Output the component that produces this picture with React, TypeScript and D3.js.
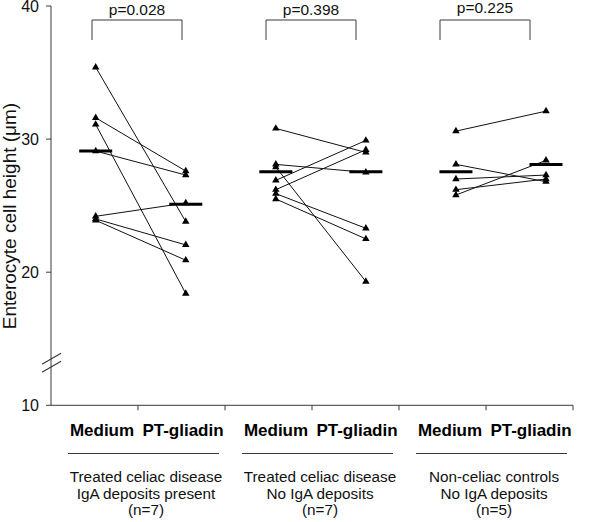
import React from "react";
import * as d3 from "d3";

// ---- data ----
const conditions = ["Medium", "PT-gliadin"];
const pLabels = ["p=0.028", "p=0.398", "p=0.225"];
const groupLine1 = ["Treated celiac disease", "Treated celiac disease", "Non-celiac controls"];
const groupLine2 = ["IgA deposits present", "No IgA deposits", "No IgA deposits"];
const groupLine3 = ["(n=7)", "(n=7)", "(n=5)"];

const g1Medium = [35.4, 31.6, 31.1, 29.1, 24.2, 24.0, 23.9];
const g1Gliadin = [23.8, 27.6, 18.4, 27.3, 25.2, 22.05, 20.9];
const g2Medium = [30.8, 28.1, 27.9, 26.9, 26.2, 25.9, 25.5];
const g2Gliadin = [29.0, 27.5, 19.3, 29.9, 29.2, 23.3, 22.5];
const g3Medium = [30.6, 28.1, 27.0, 26.2, 25.8];
const g3Gliadin = [32.1, 26.8, 27.3, 27.0, 28.4];

const summaryMedium = [29.1, 27.55, 27.55];
const summaryGliadin = [25.1, 27.55, 28.1];

const yTicks = [10, 20, 30, 40];

const mediumSeries = [g1Medium, g2Medium, g3Medium];
const gliadinSeries = [g1Gliadin, g2Gliadin, g3Gliadin];

// ---- layout ----
const W = 600;
const H = 522;
const FONT = "'Liberation Sans', Arial, Helvetica, sans-serif";

export default function App() {
  const y = d3.scaleLinear().domain([10, 40]).range([405.3, 6]);
  const xPt = d3.scaleLinear().domain([0, 5]).range([95.7, 546]);
  const xGroup = d3
    .scaleBand<number>()
    .domain([0, 1, 2])
    .range([51, 573]);
  const xTick = d3.scaleLinear().domain([0, 6]).range([51, 573]);
  const tri = d3.symbol(d3.symbolTriangle, 24)() as string;

  const axisColor = "#3a3a3a";
  const x0 = 51;
  const yBottom = y(10);

  const breakY = y(13.2);

  return (
    <svg
      width={W}
      height={H}
      style={{ position: "absolute", left: 0, top: 0, background: "#fff" }}
      fontFamily={FONT}
    >
      <rect width={W} height={H} fill="#fff" />
      {/* y axis */}
      <line x1={x0} x2={x0} y1={y(40)} y2={yBottom} stroke={axisColor} strokeWidth={1} />
      {yTicks.map((t) => (
        <g key={t}>
          <line x1={x0 - 5} x2={x0} y1={y(t)} y2={y(t)} stroke={axisColor} />
          <text x={39} y={y(t)} dy="0.36em" textAnchor="end" fontSize={16} fill="#111">
            {t}
          </text>
        </g>
      ))}
      {/* axis break */}
      {[-4, 4].map((o) => (
        <line
          key={o}
          x1={x0 - 9}
          y1={breakY + o + 5.5}
          x2={x0 + 10}
          y2={breakY + o - 5.5}
          stroke={axisColor}
          strokeWidth={1.2}
        />
      ))}
      {/* x axis */}
      <line x1={x0} x2={573} y1={yBottom} y2={yBottom} stroke={axisColor} />
      {d3.range(1, 7).map((i) => (
        <line key={i} x1={xTick(i)} x2={xTick(i)} y1={yBottom} y2={yBottom + 5} stroke={axisColor} />
      ))}

      {/* y label */}
      <text
        transform={`translate(15.5,216) rotate(-90)`}
        textAnchor="middle"
        fontSize={19}
        fill="#111"
      >
        Enterocyte cell height (μm)
      </text>

      {/* paired lines */}
      {mediumSeries.map((med, g) =>
        med.map((v, i) => (
          <line
            key={`l${g}-${i}`}
            x1={xPt(2 * g)}
            y1={y(v)}
            x2={xPt(2 * g + 1)}
            y2={y(gliadinSeries[g][i])}
            stroke="#111"
            strokeWidth={1}
          />
        ))
      )}

      {/* summary bars */}
      {summaryMedium.map((v, g) => (
        <line key={`sm${g}`} x1={xPt(2 * g) - 16.5} x2={xPt(2 * g) + 16.5} y1={y(v)} y2={y(v)} stroke="#000" strokeWidth={3} />
      ))}
      {summaryGliadin.map((v, g) => (
        <line key={`sg${g}`} x1={xPt(2 * g + 1) - 16.5} x2={xPt(2 * g + 1) + 16.5} y1={y(v)} y2={y(v)} stroke="#000" strokeWidth={3} />
      ))}

      {/* triangles */}
      {mediumSeries.map((med, g) =>
        med.map((v, i) => (
          <path key={`tm${g}-${i}`} d={tri} transform={`translate(${xPt(2 * g)},${y(v)})`} fill="#000" />
        ))
      )}
      {gliadinSeries.map((gl, g) =>
        gl.map((v, i) => (
          <path key={`tg${g}-${i}`} d={tri} transform={`translate(${xPt(2 * g + 1)},${y(v)})`} fill="#000" />
        ))
      )}

      {/* brackets and p-values */}
      {pLabels.map((p, g) => {
        const cx = (xGroup(g) as number) + xGroup.bandwidth() / 2;
        return (
          <g key={p}>
            <path
              d={`M${cx - 46},40V20H${cx + 44}V40`}
              fill="none"
              stroke={axisColor}
              strokeWidth={1}
            />
            <text x={cx - 1} y={g === 2 ? 13 : 14.5} textAnchor="middle" fontSize={15.5} fill="#111">
              {p}
            </text>
          </g>
        );
      })}

      {/* condition labels, underline, group descriptions */}
      {[0, 1, 2].map((g) => {
        const cx = (xGroup(g) as number) + xGroup.bandwidth() / 2;
        return (
          <g key={`grp${g}`}>
            <text x={cx - 36} y={435.5} textAnchor="middle" fontSize={17} fontWeight="bold" fill="#000">
              {conditions[0]}
            </text>
            <text x={cx + 45} y={435.5} textAnchor="middle" fontSize={17} fontWeight="bold" fill="#000">
              {conditions[1]}
            </text>
            <line x1={cx - 70} x2={cx + 81} y1={453.5} y2={453.5} stroke={axisColor} strokeWidth={1} />
            <text x={cx + 8} textAnchor="middle" fontSize={15.3} fill="#111">
              <tspan x={cx + 8} y={482.3}>{groupLine1[g]}</tspan>
              <tspan x={cx + 8} y={499}>{groupLine2[g]}</tspan>
              <tspan x={cx + 8} y={514.5}>{groupLine3[g]}</tspan>
            </text>
          </g>
        );
      })}
    </svg>
  );
}
